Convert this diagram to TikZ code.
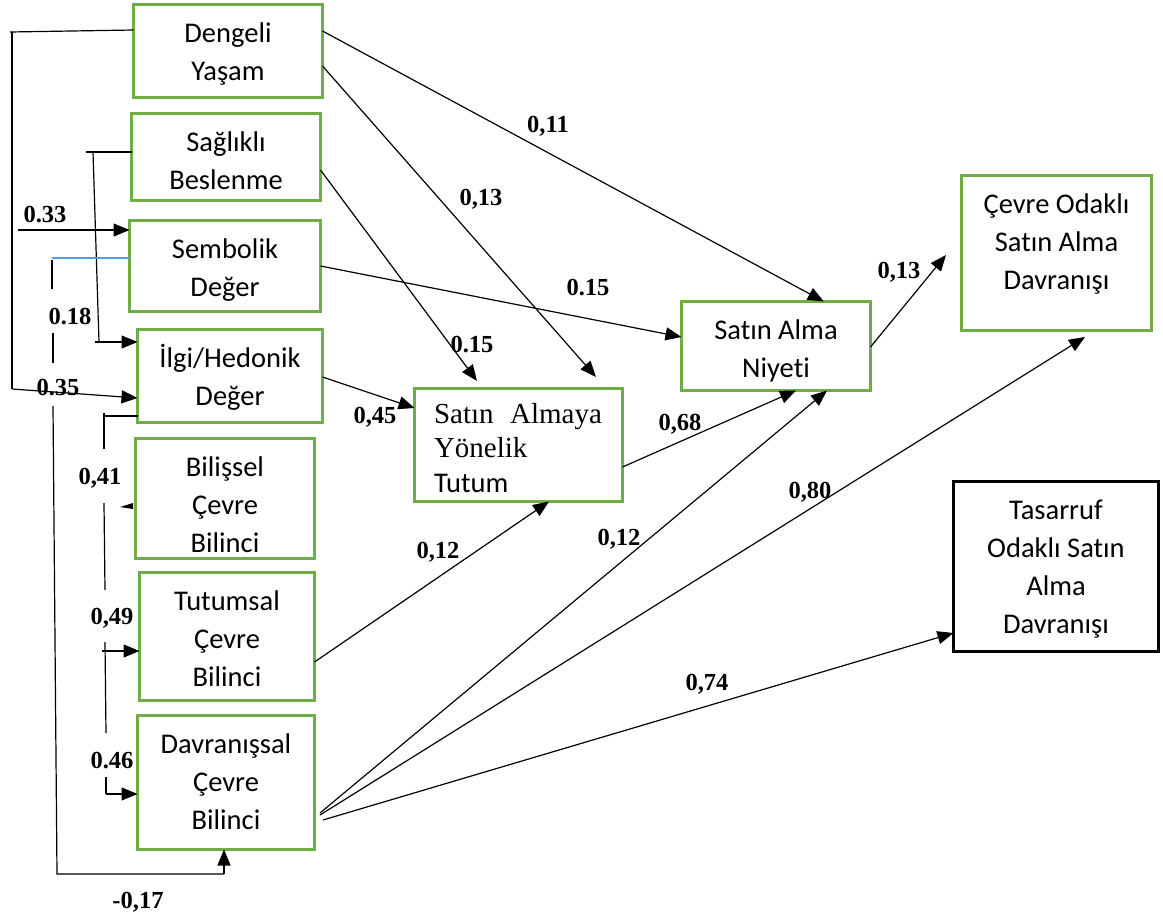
\documentclass[tikz,border=0pt]{standalone}
\usepackage{fontspec}
\setmainfont{Carlito}[Ligatures=NoCommon]
\newfontfamily\timesf{Liberation Serif}
\usetikzlibrary{arrows.meta,calc}
\definecolor{boxgreen}{HTML}{70AD47}
\definecolor{lblue}{HTML}{5B9BD5}
\newcommand\boxtxt[3]{\begin{minipage}[c][#2pt][t]{#1pt}\centering\fontsize{28.5}{38}\selectfont\rule{0pt}{37.5pt}#3\end{minipage}}
\tikzset{
  gbox/.style={draw=boxgreen, line width=2.7pt, inner sep=0pt, outer sep=0pt, anchor=north west},
  kbox/.style={gbox, draw=black},
  ln/.style={line width=1.2pt, black},
  arr/.style={ln, -{Triangle[length=16pt,width=13pt]}},
  lbl/.style={font=\timesf\bfseries\fontsize{24.5}{24.5}\selectfont, inner sep=0pt, anchor=base}
}
\begin{document}
\begin{tikzpicture}[x=1pt,y=-1pt]
\useasboundingbox[fill=white] (0,0) rectangle (1163,918);

% boxes
\node[gbox] (dengeli) at (133.5,4.5) {\boxtxt{189}{93}{Dengeli\\Yaşam}};
\node[gbox] (saglik) at (131.5,113.5) {\boxtxt{189}{87}{Sağlıklı\\Beslenme}};
\node[gbox] (sembol) at (129.5,220.5) {\boxtxt{191}{91}{Sembolik\\Değer}};
\node[gbox] (ilgi) at (137.5,329.5) {\boxtxt{185}{93}{İlgi/Hedonik\\Değer}};
\node[gbox] (bilis) at (135.5,438.5) {\boxtxt{179}{120}{Bilişsel\\Çevre\\Bilinci}};
\node[gbox] (tutums) at (139.5,572.5) {\boxtxt{175}{128}{Tutumsal\\Çevre\\Bilinci}};
\node[gbox] (davran) at (137.5,715.5) {\boxtxt{177}{134}{Davranışsal\\Çevre\\Bilinci}};
\node[gbox] (tutum) at (414.5,388.5) {\begin{minipage}[c][113pt][t]{208pt}\hspace*{19.5pt}\begin{minipage}[t]{168pt}\timesf\fontsize{29}{34.5}\selectfont\rule{0pt}{34.5pt}\hbox to 168pt{Satın\hfill Almaya}\\Yönelik\\{\normalfont\fontsize{28.5}{34.5}\selectfont Tutum}\end{minipage}\end{minipage}};
\node[gbox] (niyet) at (681.5,301.5) {\boxtxt{189}{89}{Satın Alma\\Niyeti}};
\node[gbox] (cevre) at (961.5,175.5) {\boxtxt{190}{155}{Çevre Odaklı\\Satın Alma\\Davranışı}};
\node[kbox] (tasarruf) at (953.5,481.5) {\boxtxt{205}{170}{Tasarruf\\Odaklı Satın\\Alma\\Davranışı}};

% free-end coordinates
\coordinate (t2) at (596,377);
\coordinate (t3) at (477,381);
\coordinate (t9) at (1085,337);
\coordinate (t11) at (946,255);
\coordinate (dv1) at (320,813);
\coordinate (dv2) at (320,815);
\coordinate (dv3) at (323,820);

% right-hand paths
\draw[arr] (dengeli.east |- 0,31) -- ($(niyet.north west)!0.753!(niyet.north east)$);
\draw[arr] (dengeli.east |- 0,66) -- (t2);
\draw[arr] (saglik.east |- 0,170) -- (t3);
\draw[arr] (sembol.east |- 0,266) -- (niyet.west |- 0,337);
\draw[arr] (ilgi.east |- 0,377) -- (tutum.west |- 0,408);
\draw[arr] (tutums.east |- 0,662) -- (tutum.south -| 549,0);
\draw[arr] (tutum.east |- 0,467) -- (niyet.south -| 796,0);
\draw[arr] (dv1) -- (niyet.south -| 827,0);
\draw[arr] (dv2) -- (t9);
\draw[arr] (dv3) -- (tasarruf.west |- 0,633);
\draw[arr] (niyet.east |- 0,347) -- (t11);

% right-hand labels
\node[lbl] (l011) at (548,132) {0,11};
\node[lbl] (l013a) at (481,205) {0,13};
\node[lbl] (l015a) at (588,295) {0.15};
\node[lbl] (l015b) at (472,352) {0.15};
\node[lbl] (l013b) at (899,278) {0,13};
\node[lbl] (l045) at (375,423) {0,45};
\node[lbl] (l068) at (680,430) {0,68};
\node[lbl] (l012a) at (438,558) {0,12};
\node[lbl] (l012b) at (619,545) {0,12};
\node[lbl] (l080) at (810,498) {0,80};
\node[lbl] (l074) at (707,690) {0,74};

% left-hand labels
\node[lbl] (l033) at (45,222) {0.33};
\node[lbl] (l018) at (70,324) {0.18};
\node[lbl] (l035) at (58,395) {0.35};
\node[lbl] (l041) at (100,484) {0,41};
\node[lbl] (l049) at (112,624) {0,49};
\node[lbl] (l046) at (112,768) {0.46};
\node[lbl] (l017) at (138,908) {-0,17};

% Dengeli Yasam -> Ilgi/Hedonik (0.35)
\coordinate (dA) at (10,32);
\coordinate (dB) at (12,389);
\draw[ln] (dengeli.west |- 0,30) -- (dA);
\draw[ln] (12,32) -- (dB);
\draw[arr] (dB) -- (ilgi.west |- 0,398);

% Saglikli Beslenme -> Ilgi/Hedonik (0.18)
\coordinate (sA) at (86,152);
\coordinate (sB) at (99,342);
\draw[ln] (saglik.west |- 0,152) -- (sA);
\draw[ln] (93,152) -- (sB);
\draw[arr] (95,342) -- (ilgi.west |- 0,342);

% 0.33 arrow into Sembolik Deger
\coordinate (sC) at (18,230);
\draw[arr] (sC) -- (sembol.west |- 0,230);

% Sembolik Deger -> Davranissal (-0,17)
\coordinate (bA) at (52,258);
\coordinate (bB) at (57,874);
\draw[lblue, line width=1.2pt] (sembol.west |- 0,258) -- (bA);
\draw[ln] (52,260) -- (52,289);
\draw[ln] (53,333) -- (53,363);
\draw[ln] (53,406) -- (bB) -- (224,874);
\draw[arr] (224,874) -- (davran.south -| 224,0);

% Ilgi/Hedonik -> Bilissel, Tutumsal, Davranissal
\coordinate (iA) at (104,416);
\draw[ln] (ilgi.west |- iA) -- (iA);
\draw[ln] (104,413) -- (104,449);
\draw[ln] (104,503) -- (105,590);
\draw[ln] (105,642) -- (106,733);
\draw[ln] (106,777) -- (106,794);
\fill[black] (120,507) -- (133,503) -- (133,509) -- cycle;
\draw[arr] (102,651) -- (tutums.west |- 0,651);
\draw[arr] (106,794) -- (davran.west |- 0,794);
\end{tikzpicture}
\end{document}
